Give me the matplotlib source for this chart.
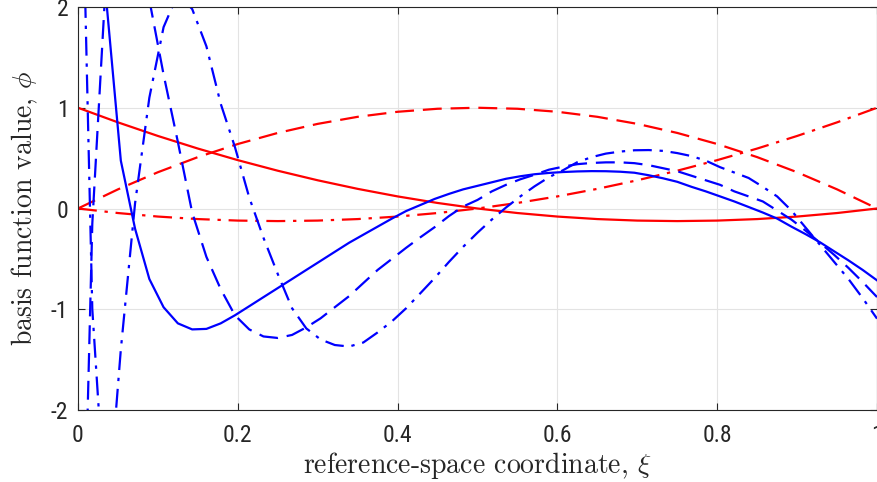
import numpy as np
import matplotlib
matplotlib.use("Agg")
import matplotlib.pyplot as plt
from matplotlib import font_manager

# ---------------- data ----------------
# quadratic Lagrange basis (red), sampled every 0.05
xi_red = [0.00, 0.05, 0.10, 0.15, 0.20, 0.25, 0.30, 0.35, 0.40, 0.45, 0.50,
          0.55, 0.60, 0.65, 0.70, 0.75, 0.80, 0.85, 0.90, 0.95, 1.00]
red_solid = [1.000, 0.855, 0.720, 0.595, 0.480, 0.375, 0.280, 0.195, 0.120, 0.055, 0.000,
             -0.045, -0.080, -0.105, -0.120, -0.125, -0.120, -0.105, -0.080, -0.045, 0.000]
red_dashed = [0.000, 0.190, 0.360, 0.510, 0.640, 0.750, 0.840, 0.910, 0.960, 0.990, 1.000,
              0.990, 0.960, 0.910, 0.840, 0.750, 0.640, 0.510, 0.360, 0.190, 0.000]
red_dashdot = [0.000, -0.045, -0.080, -0.105, -0.120, -0.125, -0.120, -0.105, -0.080, -0.045, 0.000,
               0.055, 0.120, 0.195, 0.280, 0.375, 0.480, 0.595, 0.720, 0.855, 1.000]

# blue basis functions, sampled on 57 points (step 1/56)
xi_blue = [0.0000, 0.0179, 0.0357, 0.0536, 0.0714, 0.0893, 0.1071, 0.1250, 0.1429, 0.1607,
           0.1786, 0.1964, 0.2143, 0.2321, 0.2500, 0.2679, 0.2857, 0.3036, 0.3214, 0.3393,
           0.3571, 0.3750, 0.3929, 0.4107, 0.4286, 0.4464, 0.4643, 0.4821, 0.5000, 0.5179,
           0.5357, 0.5536, 0.5714, 0.5893, 0.6071, 0.6250, 0.6429, 0.6607, 0.6786, 0.6964,
           0.7143, 0.7321, 0.7500, 0.7679, 0.7857, 0.8036, 0.8214, 0.8393, 0.8571, 0.8750,
           0.8929, 0.9107, 0.9286, 0.9464, 0.9643, 0.9821, 1.0000]
blue_solid = [6.00, 4.50, 2.04, 0.475, -0.20, -0.70, -0.98, -1.14, -1.20, -1.195,
              -1.14, -1.06, -0.97, -0.88, -0.79, -0.70, -0.61, -0.52, -0.43, -0.34,
              -0.26, -0.18, -0.10, -0.025, 0.035, 0.095, 0.145, 0.19, 0.225, 0.26,
              0.295, 0.32, 0.34, 0.353, 0.362, 0.368, 0.371, 0.37, 0.365, 0.355,
              0.33, 0.30, 0.265, 0.215, 0.17, 0.12, 0.07, 0.015, -0.04, -0.10,
              -0.18, -0.255, -0.335, -0.425, -0.515, -0.61, -0.713]
blue_dashed = [-5.86, -0.15, 2.38, 3.00, 2.80, 2.07, 1.33, 0.66, -0.04, -0.48,
               -0.80, -1.06, -1.20, -1.27, -1.285, -1.255, -1.18, -1.09, -0.98, -0.87,
               -0.74, -0.61, -0.50, -0.39, -0.285, -0.185, -0.075, 0.02, 0.085, 0.17,
               0.235, 0.29, 0.335, 0.385, 0.415, 0.44, 0.452, 0.458, 0.458, 0.45,
               0.43, 0.40, 0.37, 0.325, 0.28, 0.235, 0.17, 0.12, 0.07, -0.02,
               -0.11, -0.22, -0.34, -0.46, -0.59, -0.73, -0.879]
blue_dashdot = [5.20, -1.00, -3.19, -1.40, 0.05, 1.10, 1.80, 2.13, 1.98, 1.61,
                1.04, 0.61, 0.11, -0.29, -0.65, -0.99, -1.19, -1.30, -1.355, -1.37,
                -1.33, -1.23, -1.12, -0.99, -0.84, -0.69, -0.53, -0.38, -0.24, -0.11,
                0.01, 0.12, 0.22, 0.31, 0.38, 0.46, 0.51, 0.545, 0.565, 0.578,
                0.58, 0.572, 0.55, 0.52, 0.475, 0.41, 0.357, 0.303, 0.215, 0.12,
                -0.02, -0.19, -0.36, -0.53, -0.70, -0.89, -1.093]

xticks = [0, 0.2, 0.4, 0.6, 0.8, 1]
xticklabels = ["0", "0.2", "0.4", "0.6", "0.8", "1"]
yticks = [-2, -1, 0, 1, 2]
yticklabels = ["-2", "-1", "0", "1", "2"]
xlabel = "reference-space coordinate, $\\xi$"
ylabel = "basis function value, $\\phi$"

# ---------------- style ----------------
avail = {f.name for f in font_manager.fontManager.ttflist}
tick_font = "Liberation Sans"
for cand in ["Liberation Sans Narrow", "DejaVu Sans Condensed", "Roboto Condensed",
             "Open Sans Condensed"]:
    if cand in avail:
        tick_font = cand
        break
plt.rcParams["mathtext.fontset"] = "cm"
plt.rcParams["axes.unicode_minus"] = False

fig = plt.figure(figsize=(8.78, 4.82), dpi=100)
ax = fig.add_axes([78 / 878, 1 - 410 / 482, 799 / 878, 403 / 482])

lw = 1.6
dash = (8.5, 4.0)
dashdot = (8.5, 3.5, 1.5, 3.5)

ax.plot(xi_red, red_solid, color=(1, 0, 0), lw=lw)
ax.plot(xi_red, red_dashed, color=(1, 0, 0), lw=lw, dashes=dash)
ax.plot(xi_red, red_dashdot, color=(1, 0, 0), lw=lw, dashes=dashdot)
ax.plot(xi_blue, blue_solid, color=(0, 0, 1), lw=lw)
ax.plot(xi_blue, blue_dashed, color=(0, 0, 1), lw=lw, dashes=dash)
ax.plot(xi_blue, blue_dashdot, color=(0, 0, 1), lw=lw, dashes=dashdot)

ax.set_xlim(0, 1)
ax.set_ylim(-2, 2)
ax.set_xticks(xticks)
ax.set_xticklabels(xticklabels, fontfamily=tick_font, fontsize=17, color="#262626")
ax.set_yticks(yticks)
ax.set_yticklabels(yticklabels, fontfamily=tick_font, fontsize=17, color="#262626")
ax.tick_params(axis="x", pad=10)
ax.tick_params(axis="y", pad=7)
ax.tick_params(direction="in", length=5, width=0.8, color="#262626",
               top=True, right=True)
ax.grid(True, color="#e3e3e3", lw=0.8)
ax.set_axisbelow(True)
for s in ax.spines.values():
    s.set_color("#262626")
    s.set_linewidth(0.8)

ax.set_xlabel(xlabel, fontfamily="cmr10", fontsize=20, color="#262626", labelpad=2)
ax.set_ylabel(ylabel, fontfamily="cmr10", fontsize=20, color="#262626", labelpad=8)

fig.savefig("out.png", dpi=100)
